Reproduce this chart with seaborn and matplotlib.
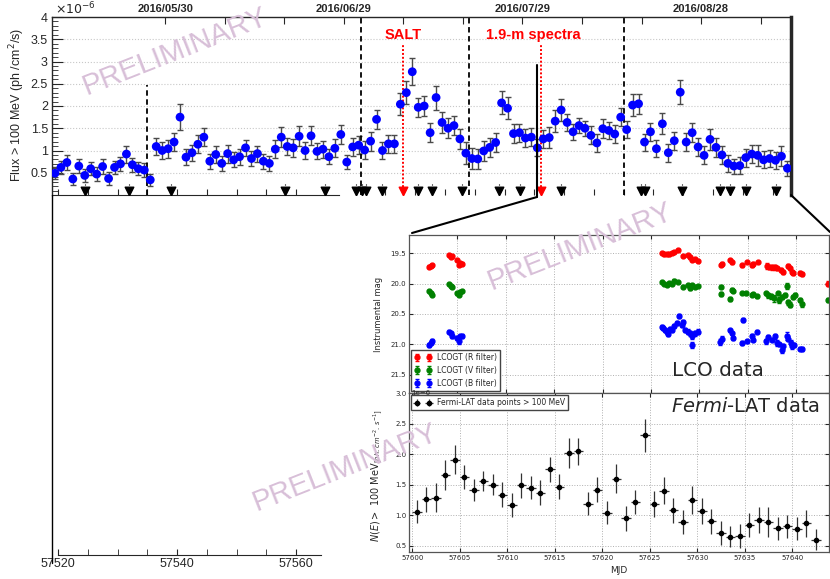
import numpy as np
import matplotlib
matplotlib.use("Agg")
import matplotlib.pyplot as plt
import seaborn as sns
from matplotlib.lines import Line2D

# ---- data -------------------------------------------------------------
# daily Fermi-LAT flux > 100 MeV, units of 1e-6 ph/cm2/s (first bin MJD 57519.5)
day_start = 57519.5
flux = [0.49, 0.62, 0.73, 0.36, 0.65, 0.44, 0.59, 0.47, 0.64, 0.37, 0.62, 0.70, 0.92, 0.68, 0.59, 0.56,
        0.34, 1.09, 1.00, 1.04, 1.19, 1.75, 0.85, 0.95, 1.14, 1.30, 0.76, 0.91, 0.71, 0.93, 0.79, 0.86,
        1.06, 0.82, 0.93, 0.76, 0.71, 1.03, 1.30, 1.09, 1.06, 1.32, 1.00, 1.33, 0.98, 1.03, 0.86, 1.05,
        1.36, 0.74, 1.08, 1.12, 1.01, 1.21, 1.70, 1.00, 1.15, 1.15, 2.04, 2.30, 2.77, 1.97, 2.00,
        1.40, 2.19, 1.63, 1.50, 1.56, 1.26, 0.94, 0.82, 0.81, 0.99, 1.07, 1.18, 2.07, 1.95, 1.38, 1.40,
        1.28, 1.30,
        1.06, 1.26, 1.29, 1.66, 1.91, 1.63, 1.42, 1.56, 1.50, 1.34, 1.17, 1.49, 1.45, 1.37, 1.75, 1.47,
        2.02, 2.05, 1.19, 1.42, 1.04, 1.60, 0.95, 1.22, 2.31, 1.19, 1.40, 1.08, 0.89, 1.25, 1.07, 0.90,
        0.71, 0.65, 0.66, 0.84, 0.92, 0.89, 0.79, 0.82, 0.78, 0.87, 0.60]
flux_err = [0.14, 0.15, 0.16, 0.14, 0.16, 0.15, 0.15, 0.15, 0.16, 0.14, 0.15, 0.16, 0.19, 0.16, 0.15, 0.15,
            0.13, 0.20, 0.18, 0.20, 0.20, 0.29, 0.18, 0.18, 0.20, 0.21, 0.17, 0.20, 0.17, 0.20, 0.17, 0.18,
            0.18, 0.17, 0.18, 0.17, 0.17, 0.20, 0.22, 0.20, 0.20, 0.22, 0.20, 0.21, 0.18, 0.19, 0.17, 0.20,
            0.22, 0.15, 0.20, 0.20, 0.20, 0.21, 0.22, 0.20, 0.20, 0.20, 0.25, 0.26, 0.30, 0.22, 0.22,
            0.22, 0.27, 0.24, 0.22, 0.22, 0.22, 0.25, 0.24, 0.22, 0.22, 0.22, 0.22, 0.26, 0.25, 0.21, 0.20,
            0.20, 0.20,
            0.19, 0.21, 0.24, 0.24, 0.24, 0.20, 0.18, 0.17, 0.17, 0.20, 0.20, 0.21, 0.19, 0.20, 0.21, 0.20,
            0.24, 0.22, 0.19, 0.20, 0.19, 0.24, 0.20, 0.20, 0.27, 0.21, 0.22, 0.21, 0.20, 0.23, 0.22, 0.20,
            0.19, 0.17, 0.19, 0.20, 0.21, 0.24, 0.19, 0.19, 0.19, 0.22, 0.17]
mjd = day_start + np.arange(len(flux))

upper_limits = [57524.5, 57531.9, 57538.9, 57558.2, 57564.9, 57570.1, 57571.1, 57571.7, 57574.4,
                57580.5, 57582.8, 57587.8, 57594.1, 57597.6, 57604.5, 57617.9, 57618.6, 57624.8,
                57631.1, 57632.9, 57635.6, 57640.6]
spectra_mjd = [57578.0, 57601.1]
spectra_labels = ["SALT", "1.9-m spectra"]
spectra_label_mjd = [57578.0, 57599.8]
state_lines = [57570.9, 57589.1, 57615.0]
early_line = 57535.0
date_ticks = [57538, 57568, 57598, 57628]
date_labels = ["2016/05/30", "2016/06/29", "2016/07/29", "2016/08/28"]

# Fermi inset = last part of the light curve
fermi_start = 57600.5

# LCOGT photometry
r_mjd = [57602.10, 57602.27, 57602.40, 57604.13, 57604.31, 57604.41, 57604.99, 57605.13, 57605.27, 57605.44,
         57626.10, 57626.38, 57626.62, 57626.86, 57627.14, 57627.41, 57627.82, 57628.34, 57628.79, 57629.03,
         57629.27, 57629.55, 57629.89, 57632.23, 57632.37, 57633.16, 57633.40, 57634.37, 57634.88, 57635.40,
         57635.57, 57636.02, 57636.95, 57637.19, 57637.53, 57637.81, 57638.05, 57638.43, 57638.67, 57639.12,
         57639.36, 57639.53, 57639.70, 57640.39, 57640.63, 57643.32]
r_mag = [19.72, 19.71, 19.69, 19.53, 19.56, 19.55, 19.61, 19.69, 19.66, 19.67,
         19.50, 19.52, 19.51, 19.52, 19.50, 19.48, 19.45, 19.55, 19.53, 19.57,
         19.61, 19.60, 19.63, 19.69, 19.67, 19.61, 19.65, 19.70, 19.64, 19.70,
         19.67, 19.64, 19.71, 19.73, 19.73, 19.73, 19.75, 19.78, 19.81, 19.71,
         19.75, 19.81, 19.83, 19.82, 19.84, 20.00]
r_err = [0.02, 0.02, 0.02, 0.02, 0.02, 0.02, 0.02, 0.02, 0.02, 0.02,
         0.02, 0.02, 0.02, 0.02, 0.02, 0.02, 0.02, 0.02, 0.02, 0.02,
         0.02, 0.02, 0.02, 0.02, 0.02, 0.02, 0.02, 0.02, 0.02, 0.02,
         0.02, 0.02, 0.05, 0.03, 0.04, 0.04, 0.03, 0.03, 0.03, 0.04,
         0.03, 0.03, 0.03, 0.03, 0.03, 0.04]
v_mjd = [57602.10, 57602.27, 57602.40, 57604.13, 57604.31, 57604.41, 57604.99, 57605.13, 57605.27, 57605.44,
         57626.10, 57626.38, 57626.62, 57626.86, 57627.14, 57627.41, 57627.82, 57628.34, 57628.79, 57629.03,
         57629.27, 57629.55, 57629.89, 57632.23, 57632.23, 57633.16, 57633.40, 57633.51, 57634.37, 57634.81,
         57635.40, 57635.50, 57635.95, 57636.88, 57637.12, 57637.40, 57637.74, 57638.09, 57638.26, 57638.50,
         57638.84, 57639.02, 57639.19, 57639.36, 57639.63, 57639.88, 57640.39, 57640.56, 57643.32]
v_mag = [20.12, 20.15, 20.19, 20.01, 20.04, 20.06, 20.16, 20.19, 20.13, 20.12,
         19.97, 20.00, 20.02, 19.99, 20.01, 19.95, 19.97, 20.05, 20.02, 20.08,
         20.02, 20.06, 20.04, 20.05, 20.17, 20.25, 20.10, 20.12, 20.15, 20.16,
         20.18, 20.17, 20.21, 20.16, 20.19, 20.21, 20.24, 20.16, 20.27, 20.22,
         20.19, 20.04, 20.31, 20.35, 20.22, 20.19, 20.27, 20.34, 20.27]
v_err = [0.02, 0.02, 0.02, 0.02, 0.02, 0.02, 0.02, 0.02, 0.02, 0.02,
         0.02, 0.02, 0.02, 0.02, 0.02, 0.02, 0.02, 0.02, 0.02, 0.02,
         0.02, 0.02, 0.02, 0.03, 0.03, 0.03, 0.02, 0.02, 0.02, 0.02,
         0.02, 0.02, 0.02, 0.03, 0.04, 0.04, 0.06, 0.03, 0.05, 0.04,
         0.03, 0.05, 0.04, 0.04, 0.04, 0.03, 0.04, 0.04, 0.04]
b_mjd = [57602.10, 57602.27, 57602.40, 57604.13, 57604.31, 57604.41, 57604.99, 57605.13, 57605.27, 57605.44,
         57626.10, 57626.27, 57626.45, 57626.62, 57626.79, 57626.96, 57627.14, 57627.41, 57627.66, 57627.89,
         57628.17, 57628.34, 57628.51, 57628.79, 57629.03, 57629.20, 57629.27, 57629.55, 57629.89,
         57632.13, 57632.30, 57633.16, 57633.33, 57633.44, 57634.37, 57634.54, 57634.88, 57635.40, 57635.50,
         57635.92, 57636.88, 57637.05, 57637.47, 57637.81, 57637.98, 57638.22, 57638.50, 57638.67, 57639.02,
         57639.19, 57639.43, 57639.60, 57639.77, 57640.39, 57640.63]
b_mag = [21.01, 20.97, 20.94, 20.79, 20.82, 20.86, 20.90, 20.95, 20.87, 20.86,
         20.71, 20.73, 20.76, 20.79, 20.83, 20.75, 20.77, 20.70, 20.65, 20.53,
         20.68, 20.63, 20.76, 20.79, 20.82, 20.87, 21.01, 20.82, 20.79,
         20.96, 20.91, 20.77, 20.82, 20.89, 20.98, 20.60, 20.95, 20.86, 20.92,
         20.79, 20.95, 20.88, 20.92, 20.87, 20.97, 21.00, 21.09, 21.03, 20.86,
         20.91, 20.97, 21.03, 21.01, 21.07, 21.08]
b_err = [0.03, 0.03, 0.03, 0.03, 0.03, 0.03, 0.03, 0.05, 0.03, 0.03,
         0.03, 0.03, 0.03, 0.03, 0.03, 0.03, 0.03, 0.03, 0.03, 0.03,
         0.03, 0.03, 0.03, 0.04, 0.04, 0.04, 0.05, 0.04, 0.04,
         0.05, 0.04, 0.03, 0.03, 0.03, 0.03, 0.03, 0.03, 0.03, 0.03,
         0.03, 0.04, 0.03, 0.03, 0.04, 0.05, 0.03, 0.05, 0.04, 0.06,
         0.04, 0.04, 0.04, 0.04, 0.03, 0.03]

# ---- figure -----------------------------------------------------------
sns.set_style("ticks")
plt.rcParams['font.family'] = ['Liberation Sans', 'DejaVu Sans']
plt.rcParams['mathtext.fontset'] = 'dejavusans'

W, H = 830, 579
fig = plt.figure(figsize=(W / 100, H / 100), dpi=100)


def add_ax(l, t, r, b):
    return fig.add_axes([l / W, 1 - b / H, (r - l) / W, (b - t) / H])


# main light curve
ax = add_ax(52, 17, 791, 195)
ax.set_xlim(57519.0, 57643.1)
ax.set_ylim(0, 4)
for yv in np.arange(0.5, 4.0, 0.5):
    ax.axhline(yv, color='#c8c8c8', ls=':', lw=0.8, zorder=0)

ax.errorbar(mjd, flux, yerr=flux_err, fmt='none', ecolor='#4a4a4a', elinewidth=1,
            capsize=2, capthick=1, zorder=2)
sns.scatterplot(x=mjd, y=flux, color='#0000ff', s=40, edgecolor='none', ax=ax, zorder=3)

ax.vlines(upper_limits, 0.16, 0.27, colors='k', linestyles=':', lw=0.8)
ax.scatter(upper_limits, [0.08] * len(upper_limits), marker='v', s=38, color='k', zorder=4)
ax.vlines(spectra_mjd, 0.1, 3.37, colors='red', linestyles=(0, (1, 1)), lw=1.4)
ax.scatter(spectra_mjd, [0.08] * len(spectra_mjd), marker='v', s=38, color='red', zorder=4)
for xm, lab in zip(spectra_label_mjd, spectra_labels):
    ax.text(xm, 3.6, lab, color='red', fontsize=10.5, fontweight='bold', ha='center', va='center')

ax.vlines(state_lines, 0, 4, colors='k', linestyles=(0, (3, 2)), lw=1.3)
ax.vlines(early_line, 0, 2.47, colors='k', linestyles=(0, (3, 2)), lw=1.3)

ax.set_yticks(np.arange(0.5, 4.01, 0.5))
ax.set_yticklabels(["0.5", "1", "1.5", "2", "2.5", "3", "3.5", "4"])
ax.set_yticks(np.arange(0.1, 4.0, 0.1), minor=True)
ax.set_xticks(np.arange(57520, 57645, 5))
ax.tick_params(axis='y', which='major', direction='in', length=8, labelsize=9, pad=3)
ax.tick_params(axis='y', which='minor', direction='in', length=4)
ax.tick_params(axis='x', direction='in', length=4, labelbottom=False)
ax.spines['right'].set_linewidth(2.5)
ax.spines['top'].set_linewidth(1)
ax.spines['left'].set_linewidth(1)
ax.spines['bottom'].set_bounds(57519.0, 57567.2)
ax.set_xlabel("")
ax.set_ylabel("")

axt = ax.twiny()
axt.set_xlim(ax.get_xlim())
axt.set_xticks(np.arange(57538, 57640, 10))
axt.set_xticklabels([date_labels[date_ticks.index(t)] if t in date_ticks else ""
                     for t in np.arange(57538, 57640, 10)], fontweight='bold')
axt.tick_params(axis='x', direction='in', length=5, labelsize=8, pad=2)
for s in axt.spines.values():
    s.set_visible(False)

fig.text(55 / W, 1 - 9 / H, r'$\times10^{-6}$', fontsize=9, va='center', ha='left')
fig.text(17 / W, 1 - 105 / H, 'Flux > 100 MeV (ph /cm$^2$/s)', rotation=90,
         fontsize=9, ha='center', va='center')

# leftover lower axis of the light curve
axb = add_ax(58, 554, 321, 555)
axb.set_xlim(57520, 57564.2)
axb.set_yticks([])
for side in ['left', 'right', 'top']:
    axb.spines[side].set_visible(False)
axb.set_xticks([57520, 57540, 57560])
axb.set_xticks([57525, 57530, 57535, 57545, 57550, 57555], minor=True)
axb.tick_params(axis='x', which='both', direction='in', length=4, labelsize=9, pad=2)
axb.patch.set_visible(False)

fig.add_artist(Line2D([52 / W, 52 / W], [1 - 195 / H, 1 - 563 / H], color='k', lw=1))
fig.add_artist(Line2D([537 / W, 537 / W], [1 - 65 / H, 1 - 197 / H], color='k', lw=1.5))
fig.add_artist(Line2D([537 / W, 412 / W], [1 - 197 / H, 1 - 233 / H], color='k', lw=1.5))
fig.add_artist(Line2D([791 / W, 830 / W], [1 - 195 / H, 1 - 232 / H], color='k', lw=1.5))

# ---- inset: LCO photometry -------------------------------------------
inset_font = 'DejaVu Sans'
ax_l = add_ax(409, 235, 829, 393)
ax_l.set_xlim(57600.0, 57643.4)
ax_l.set_ylim(21.8, 19.2)
ax_l.set_xticks(np.arange(57605, 57645, 5))
ax_l.set_xticklabels([])
ax_l.set_yticks([19.5, 20.0, 20.5, 21.0, 21.5])
ax_l.set_yticklabels(["19.5", "20.0", "20.5", "21.0", "21.5"], family=inset_font)
ax_l.grid(True, ls=':', color='#b0b0b0', lw=0.7)
for xm, mg, er, c, lab in [(r_mjd, r_mag, r_err, 'red', 'LCOGT (R filter)'),
                           (v_mjd, v_mag, v_err, 'green', 'LCOGT (V filter)'),
                           (b_mjd, b_mag, b_err, 'blue', 'LCOGT (B filter)')]:
    ax_l.errorbar(xm, mg, yerr=er, fmt='o', color=c, ms=3.5, mec=c, elinewidth=0.8,
                  ecolor=c, capsize=1.2, label=lab)
ax_l.legend(loc='lower left', numpoints=2, fancybox=False, edgecolor='#444444',
            framealpha=1, borderaxespad=0.3, handlelength=2.2, prop={'family': inset_font, 'size': 5.5})
ax_l.set_ylabel('Instrumental mag', fontsize=6, family=inset_font)
ax_l.yaxis.set_label_coords(-0.062, 0.5)

# ---- inset: Fermi-LAT --------------------------------------------------
i0 = int(fermi_start - day_start)
ax_f = add_ax(409, 393, 829, 552)
ax_f.set_xlim(57599.66, 57643.87)
ax_f.set_ylim(0.4, 3.0)
ax_f.grid(True, ls=':', color='#b0b0b0', lw=0.7)
ax_f.errorbar(mjd[i0:], flux[i0:], xerr=0.5, yerr=flux_err[i0:], fmt='o', color='k', ms=3,
              elinewidth=0.9, ecolor='#333333', capsize=0, label='Fermi-LAT data points > 100 MeV')
ax_f.set_xticks(np.arange(57600, 57645, 5))
ax_f.set_xticklabels([str(t) for t in range(57600, 57645, 5)], family=inset_font)
ax_f.set_yticks([0.5, 1.0, 1.5, 2.0, 2.5, 3.0])
ax_f.set_yticklabels(["0.5", "1.0", "1.5", "2.0", "2.5", "3.0"], family=inset_font)
ax_f.legend(loc='upper left', numpoints=2, fancybox=False, edgecolor='#444444', framealpha=1,
            borderaxespad=0.3, handlelength=2.2, prop={'family': inset_font, 'size': 5.5})
ax_f.set_xlabel('MJD', fontsize=6.5, family=inset_font)
ax_f.xaxis.set_label_coords(0.5, -0.085)
ax_f.set_ylabel(r'$N(E)>$ 100 MeV$_{[ph.\,cm^{-2}.\,s^{-1}]}$', fontsize=7, family=inset_font)
ax_f.yaxis.set_label_coords(-0.057, 0.48)
ax_f.text(0.005, 1.0, '1e\u22126', transform=ax_f.transAxes, fontsize=5, family=inset_font,
          va='center', ha='left')

for a in (ax_l, ax_f):
    a.tick_params(which='both', direction='in', length=3, labelsize=5, top=True, right=True, pad=2)
    for s in a.spines.values():
        s.set_color('#555555')
        s.set_linewidth(0.9)

fig.text(718 / W, 1 - 371 / H, 'LCO data', fontsize=14.3, family=inset_font, ha='center', va='center')
fig.text(746 / W, 1 - 406 / H, r'$\it{Fermi}$-LAT data', fontsize=14, family=inset_font,
         ha='center', va='center')

# watermarks
for cx, cy in [(175, 52), (580, 247), (345, 468)]:
    fig.text(cx / W, 1 - cy / H, 'PRELIMINARY', fontsize=21, color='#d8bfd8', rotation=21.5,
             rotation_mode='anchor', ha='center', va='center', zorder=10)

fig.savefig('out.png', dpi=100)
